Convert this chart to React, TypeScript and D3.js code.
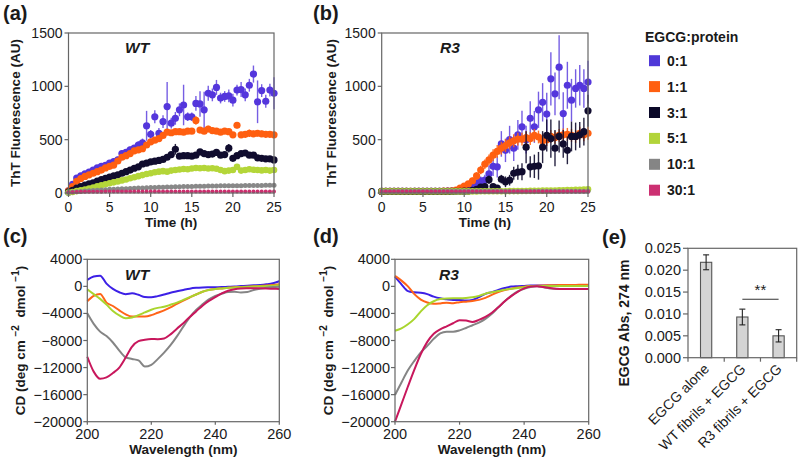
import React from "react";
import * as d3 from "d3";

const FONT = "'Liberation Sans', Arial, Helvetica, sans-serif";

// ---------- shared categories ----------
const RATIOS = ["0:1", "1:1", "3:1", "5:1", "10:1", "30:1"];
const POINT_COLORS = ["#5436dc", "#ff5f10", "#100c2e", "#b4d639", "#888888", "#cc2f6e"];
const LEGEND_COLORS = ["#4f38d8", "#ff5f10", "#0a0828", "#b2d43a", "#858585", "#cc3072"];
const POINT_RADII = [3.6, 3.6, 3.6, 3.3, 2.5, 2.0];

const TIME = [0, 0.5, 1, 1.5, 2, 2.5, 3, 3.5, 4, 4.5, 5, 5.5, 6, 6.5, 7, 7.5, 8, 8.5, 9, 9.5, 10, 10.5, 11, 11.5, 12, 12.5, 13, 13.5, 14, 14.5, 15, 15.5, 16, 16.5, 17, 17.5, 18, 18.5, 19, 19.5, 20, 20.5, 21, 21.5, 22, 22.5, 23, 23.5, 24, 24.5, 25];
const TIME_TICKS = [0, 5, 10, 15, 20, 25];
const THT_TICKS = [0, 500, 1000, 1500];

// ---------- (a) WT ThT ----------
const WT_0 = [20, 80, 140, 160, 180, 195, 215, 235, 250, 260, 280, 295, 310, 370, 380, 405, 420, 450, 470, 630, 550, 715, 560, 670, 810, 655, 700, 780, 825, 715, 715, 840, 835, 780, 935, 920, 990, 890, 905, 910, 870, 965, 970, 920, 1010, 1115, 855, 960, 860, 965, 935];
const WT_0_ERR = [10, 15, 20, 20, 20, 20, 20, 25, 25, 25, 25, 25, 30, 30, 30, 30, 30, 35, 40, 140, 40, 60, 50, 60, 230, 50, 60, 60, 190, 40, 40, 70, 120, 170, 70, 60, 70, 50, 50, 60, 60, 50, 70, 60, 60, 80, 200, 60, 60, 60, 150];
const WT_1 = [20, 60, 110, 135, 155, 170, 185, 200, 215, 235, 250, 262, 300, 335, 350, 370, 395, 405, 415, 450, 480, 495, 510, 540, 570, 565, 575, 575, 570, 580, 580, 680, 590, 580, 600, 585, 580, 570, 580, 575, 545, 635, 545, 550, 560, 555, 560, 555, 550, 550, 545];
const WT_1_ERR = [5, 10, 10, 12, 12, 12, 12, 12, 15, 15, 15, 15, 15, 18, 18, 18, 20, 20, 20, 20, 20, 20, 20, 20, 25, 20, 25, 25, 25, 25, 25, 40, 25, 25, 30, 25, 25, 25, 25, 25, 25, 30, 30, 30, 35, 30, 30, 30, 30, 30, 30];
const WT_3 = [10, 25, 45, 60, 75, 85, 95, 112, 125, 137, 148, 160, 170, 185, 200, 215, 232, 245, 272, 280, 292, 298, 305, 315, 335, 360, 410, 345, 350, 350, 345, 355, 385, 370, 360, 365, 380, 355, 360, 420, 325, 350, 370, 375, 355, 355, 330, 325, 320, 320, 310];
const WT_3_ERR = [5, 5, 8, 8, 10, 10, 10, 10, 12, 12, 12, 12, 12, 15, 15, 15, 15, 15, 15, 15, 15, 15, 15, 18, 20, 20, 50, 20, 20, 20, 20, 20, 25, 20, 20, 20, 25, 20, 20, 40, 20, 20, 25, 20, 20, 20, 20, 20, 20, 20, 20];
const WT_5 = [5, 10, 18, 25, 33, 42, 52, 62, 72, 82, 92, 100, 108, 118, 126, 138, 148, 158, 168, 178, 185, 195, 200, 205, 200, 210, 215, 220, 225, 222, 230, 235, 232, 235, 230, 232, 228, 215, 205, 210, 215, 245, 210, 215, 222, 218, 215, 212, 215, 210, 215];
const WT_5_ERR = [3, 4, 5, 5, 6, 6, 6, 8, 8, 8, 8, 8, 10, 10, 10, 10, 10, 12, 12, 12, 12, 12, 15, 15, 15, 15, 15, 18, 18, 18, 18, 20, 20, 20, 20, 20, 20, 20, 20, 20, 20, 20, 20, 20, 20, 20, 20, 20, 20, 20, 20];
const WT_10 = [5, 9, 12, 15, 18, 21, 24, 26, 29, 31, 34, 36, 38, 40, 41, 43, 45, 46, 48, 49, 51, 52, 53, 55, 56, 57, 58, 59, 60, 61, 62, 63, 64, 64, 65, 66, 66, 67, 67, 68, 68, 69, 69, 70, 70, 70, 71, 71, 72, 72, 72];
const WT_10_ERR = [3, 3, 4, 4, 4, 5, 5, 5, 5, 6, 6, 6, 6, 6, 7, 7, 7, 7, 8, 8, 8, 8, 8, 8, 9, 9, 9, 9, 9, 9, 10, 10, 10, 10, 10, 10, 10, 10, 10, 10, 10, 10, 10, 10, 10, 10, 10, 10, 10, 10, 10];
const WT_30 = [6, 8, 10, 11, 11, 12, 12, 12, 12, 13, 13, 13, 13, 13, 13, 13, 14, 14, 14, 14, 14, 14, 14, 14, 14, 14, 14, 14, 14, 14, 14, 14, 14, 14, 14, 14, 14, 14, 14, 14, 14, 14, 14, 14, 14, 14, 14, 14, 14, 14, 14];
const WT_30_ERR = [2, 2, 2, 2, 2, 2, 2, 2, 2, 2, 2, 2, 2, 2, 2, 2, 2, 2, 2, 2, 2, 2, 2, 2, 2, 2, 2, 2, 2, 2, 2, 2, 2, 2, 2, 2, 2, 2, 2, 2, 2, 2, 2, 2, 2, 2, 2, 2, 2, 2, 2];

// ---------- (b) R3 ThT ----------
const R3_0 = [15, 15, 16, 15, 15, 16, 15, 14, 15, 15, 16, 15, 15, 16, 15, 16, 17, 18, 20, 25, 35, 50, 70, 95, 115, 120, 180, 250, 245, 460, 400, 500, 420, 545, 620, 500, 700, 620, 780, 850, 740, 1070, 930, 1180, 745, 1010, 870, 980, 1010, 980, 1040];
const R3_0_ERR = [5, 5, 5, 5, 5, 5, 5, 5, 5, 5, 5, 5, 5, 5, 5, 5, 5, 5, 5, 5, 10, 15, 20, 25, 40, 50, 80, 90, 100, 120, 110, 130, 120, 140, 150, 130, 160, 150, 170, 180, 200, 250, 200, 300, 200, 220, 200, 180, 190, 180, 200];
const R3_1 = [15, 15, 15, 16, 15, 15, 16, 15, 15, 16, 15, 15, 16, 15, 16, 17, 18, 20, 28, 45, 65, 85, 115, 160, 215, 270, 310, 355, 390, 420, 445, 470, 490, 505, 505, 520, 510, 540, 525, 490, 500, 530, 520, 540, 545, 550, 540, 530, 560, 545, 560];
const R3_1_ERR = [5, 5, 5, 5, 5, 5, 5, 5, 5, 5, 5, 5, 5, 5, 5, 5, 5, 8, 10, 15, 20, 25, 30, 35, 40, 45, 50, 55, 60, 60, 60, 60, 60, 60, 60, 60, 60, 60, 60, 60, 60, 60, 60, 60, 60, 60, 60, 60, 60, 60, 60];
const R3_3 = [15, 15, 15, 15, 15, 15, 15, 15, 15, 15, 15, 15, 15, 15, 15, 15, 15, 15, 16, 16, 17, 18, 25, 35, 55, 60, 125, 60, 45, 130, 105, 120, 185, 195, 200, 430, 245, 250, 255, 430, 540, 510, 420, 530, 460, 400, 530, 530, 545, 575, 770];
const R3_3_ERR = [5, 5, 5, 5, 5, 5, 5, 5, 5, 5, 5, 5, 5, 5, 5, 5, 5, 5, 5, 5, 5, 5, 10, 15, 20, 20, 40, 25, 30, 40, 50, 50, 60, 70, 80, 150, 100, 110, 130, 150, 150, 180, 170, 150, 130, 130, 140, 130, 120, 130, 150];
const R3_5 = [15, 15, 15, 15, 15, 15, 15, 15, 15, 15, 15, 15, 15, 15, 15, 15, 15, 15, 15, 15, 15, 15, 15, 15, 16, 16, 16, 16, 17, 17, 17, 18, 18, 18, 19, 19, 20, 20, 21, 22, 22, 23, 24, 25, 26, 27, 28, 30, 31, 33, 35];
const R3_10 = [17, 17, 17, 17, 17, 17, 17, 17, 17, 17, 17, 17, 17, 17, 17, 17, 17, 17, 17, 17, 17, 17, 17, 17, 17, 17, 17, 17, 17, 17, 17, 17, 17, 17, 17, 17, 17, 17, 17, 17, 17, 17, 17, 17, 17, 17, 17, 17, 17, 17, 17];
const R3_30 = [14, 14, 14, 14, 14, 14, 14, 14, 14, 14, 14, 14, 14, 14, 14, 14, 14, 14, 14, 14, 14, 14, 14, 14, 14, 14, 14, 14, 14, 14, 14, 14, 14, 14, 14, 14, 14, 14, 14, 14, 14, 14, 14, 14, 14, 14, 14, 14, 14, 14, 14];
const R3_LOW_ERR = [4, 4, 4, 4, 4, 4, 4, 4, 4, 4, 4, 4, 4, 4, 4, 4, 4, 4, 4, 4, 4, 4, 4, 4, 4, 4, 4, 4, 4, 4, 4, 4, 4, 4, 4, 4, 4, 4, 4, 4, 4, 4, 4, 4, 4, 4, 4, 4, 4, 4, 4];

// ---------- (c)/(d) CD spectra ----------
const CD_COLORS = ["#3c20e6", "#ff6418", "#a9d52e", "#858585", "#c8175c"];
const WAVELENGTH = [200, 202, 204, 206, 208, 210, 212, 214, 216, 218, 220, 222, 224, 226, 228, 230, 232, 234, 236, 238, 240, 242, 244, 246, 248, 250, 252, 254, 256, 258, 260];
const WAVE_TICKS = [200, 220, 240, 260];
const CD_TICKS = [4000, 0, -4000, -8000, -12000, -16000, -20000];

const CD_WT_0 = [950, 1450, 1580, 400, -380, -870, -1150, -1030, -1250, -1580, -1620, -1440, -1200, -930, -730, -530, -340, -220, -160, -140, -130, -100, -60, -20, 40, 100, 150, 200, 300, 450, 750];
const CD_WT_1 = [-2200, -1400, -1120, -2400, -2900, -3550, -4150, -4470, -4470, -4450, -4250, -3900, -3550, -3100, -2600, -2120, -1650, -1200, -800, -520, -400, -300, -200, -130, -90, -50, 0, 50, 120, 200, 300];
const CD_WT_5 = [-450, -1150, -1850, -2700, -3650, -4300, -4700, -4600, -4250, -3850, -3450, -3180, -3020, -2720, -2400, -2000, -1600, -1200, -800, -550, -380, -300, -220, -160, -120, -60, -20, 10, 40, 80, 150];
const CD_WT_10 = [-3990, -5550, -6690, -7350, -8300, -9500, -10500, -10730, -10950, -11860, -11600, -10750, -9800, -8700, -7400, -5950, -4600, -3500, -2650, -1900, -1400, -1100, -850, -800, -900, -850, -530, -350, -200, -100, -40];
const CD_WT_30 = [-10400, -12600, -13650, -13450, -12800, -12000, -10500, -8900, -8100, -7880, -7780, -7800, -7700, -7100, -6250, -5450, -4520, -3700, -2850, -2150, -1600, -1050, -650, -420, -320, -290, -280, -290, -310, -350, -390];

const CD_R3_0 = [1440, 300, -700, -880, -950, -1150, -1520, -1770, -1910, -2010, -2010, -2100, -2000, -1600, -1100, -850, -530, -250, -30, 30, 70, 110, 120, 130, 140, 150, 160, 170, 180, 190, 200];
const CD_R3_1 = [1540, 850, 0, -1150, -1950, -2380, -2580, -2520, -2420, -2480, -2330, -2260, -2170, -2000, -1700, -1250, -850, -560, -350, -180, -50, 40, 100, 140, 160, 180, 200, 210, 220, 240, 250];
const CD_R3_5 = [-6550, -6200, -5600, -4800, -3700, -2800, -2200, -1880, -1780, -1760, -1760, -1720, -1620, -1400, -1080, -870, -680, -500, -370, -250, -120, 60, 60, 50, 40, 40, 40, 50, 50, 50, 50];
const CD_R3_10 = [-16050, -14200, -12400, -11000, -9750, -8800, -7750, -6950, -6700, -6690, -6500, -6150, -5750, -5350, -4800, -4050, -3100, -2200, -1400, -750, -350, -100, 20, -150, -300, -390, -390, -390, -390, -390, -390];
const CD_R3_30 = [-20000, -17400, -14800, -12300, -10000, -8200, -7000, -6350, -5900, -5450, -5000, -5050, -5250, -4950, -4500, -3900, -3100, -2200, -1450, -800, -300, -20, 30, -100, -250, -350, -390, -390, -390, -390, -390];

// ---------- (e) EGCG absorbance ----------
const E_CATS = ["EGCG alone", "WT fibrils + EGCG", "R3 fibrils + EGCG"];
const E_VALUES = [0.0218, 0.0093, 0.005];
const E_ERR = [0.0017, 0.0018, 0.0014];
const E_TICKS = [0, 0.005, 0.01, 0.015, 0.02, 0.025];
const E_SIG = { from: 1, to: 2, value: 0.01335, label: "**" };

const AXIS = "#666";
const TXT = "#1a1a1a";

type Box = { l: number; r: number; t: number; b: number };

function ThTPanel(props: {
  box: Box;
  series: number[][];
  errs: number[][];
  tag: string;
  tagX: number;
  name: string;
  nameX: number;
  ylabX: number;
}) {
  const { box, series, errs } = props;
  const x = d3.scaleLinear().domain([0, 25]).range([box.l, box.r]);
  const y = d3.scaleLinear().domain([0, 1500]).range([box.b, box.t]);
  return (
    <g>
      <defs>
        <clipPath id={`clip-${props.tag}`}>
          <rect x={box.l} y={box.t} width={box.r - box.l} height={box.b - box.t} />
        </clipPath>
      </defs>
      <g clipPath={`url(#clip-${props.tag})`}>
        {series.map((vals, si) => (
          <g key={si}>
            {vals.map((v, j) => (
              <line
                key={"e" + j}
                x1={x(TIME[j])}
                x2={x(TIME[j])}
                y1={y(v - errs[si][j])}
                y2={y(v + errs[si][j])}
                stroke={POINT_COLORS[si]}
                strokeOpacity={si === 0 ? 0.8 : 0.9}
                strokeWidth={1.4}
              />
            ))}
            {vals.map((v, j) => (
              <circle key={"p" + j} cx={x(TIME[j])} cy={y(v)} r={POINT_RADII[si]} fill={POINT_COLORS[si]} />
            ))}
          </g>
        ))}
      </g>
      <rect x={box.l} y={box.t} width={box.r - box.l} height={box.b - box.t} fill="none" stroke={AXIS} strokeWidth={1.2} />
      {TIME_TICKS.map((t) => (
        <g key={t}>
          <line x1={x(t)} x2={x(t)} y1={box.b} y2={box.b + 4} stroke={AXIS} strokeWidth={1.2} />
          <text x={x(t)} y={box.b + 19} textAnchor="middle" fontSize={14} fill={TXT}>
            {t}
          </text>
        </g>
      ))}
      {THT_TICKS.map((v) => (
        <g key={v}>
          <line x1={box.l - 4} x2={box.l} y1={y(v)} y2={y(v)} stroke={AXIS} strokeWidth={1.2} />
          <text x={box.l - 6} y={y(v) + 5} textAnchor="end" fontSize={14} fill={TXT}>
            {v}
          </text>
        </g>
      ))}
      <text
        transform={`translate(${props.ylabX},${(box.t + box.b) / 2}) rotate(-90)`}
        textAnchor="middle"
        fontSize={13.5}
        fontWeight="bold"
        fill={TXT}
      >
        ThT Fluorescence (AU)
      </text>
      <text x={(box.l + box.r) / 2} y={box.b + 34} textAnchor="middle" fontSize={13.5} fontWeight="bold" fill={TXT}>
        Time (h)
      </text>
      <text x={props.tagX} y={20} fontSize={20} fontWeight="bold" fill={TXT}>
        {props.tag}
      </text>
      <text x={props.nameX} y={53} fontSize={15.5} fontWeight="bold" fontStyle="italic" fill={TXT}>
        {props.name}
      </text>
    </g>
  );
}

function CDPanel(props: {
  box: Box;
  series: number[][];
  tag: string;
  tagX: number;
  name: string;
  nameX: number;
  ylabX: number;
}) {
  const { box, series } = props;
  const x = d3.scaleLinear().domain([200, 260]).range([box.l, box.r]);
  const y = d3.scaleLinear().domain([-20000, 4000]).range([box.b, box.t]);
  const line = d3
    .line<number>()
    .x((_, i) => x(WAVELENGTH[i]))
    .y((d) => y(d))
    .curve(d3.curveMonotoneX);
  const fmt = d3.format(",");
  const fmtTick = (v: number) => fmt(v).replace(/,/g, "");
  const nb = "\u00A0";
  return (
    <g>
      <defs>
        <clipPath id={`clip-${props.tag}`}>
          <rect x={box.l} y={box.t} width={box.r - box.l} height={box.b - box.t} />
        </clipPath>
      </defs>
      <g clipPath={`url(#clip-${props.tag})`}>
        {series.map((vals, si) => (
          <path key={si} d={line(vals) || ""} fill="none" stroke={CD_COLORS[si]} strokeWidth={2} />
        ))}
      </g>
      <rect x={box.l} y={box.t} width={box.r - box.l} height={box.b - box.t} fill="none" stroke={AXIS} strokeWidth={1.2} />
      {WAVE_TICKS.map((t) => (
        <g key={t}>
          <line x1={x(t)} x2={x(t)} y1={box.b} y2={box.b + 3} stroke={AXIS} strokeWidth={1.2} />
          <text x={x(t)} y={box.b + 17} textAnchor="middle" fontSize={14.5} fill={TXT}>
            {t}
          </text>
        </g>
      ))}
      {CD_TICKS.map((v) => (
        <g key={v}>
          <line x1={box.l - 4} x2={box.l} y1={y(v)} y2={y(v)} stroke={AXIS} strokeWidth={1.2} />
          <text x={box.l - 5} y={y(v) + 5} textAnchor="end" fontSize={14.5} fill={TXT}>
            {fmtTick(v)}
          </text>
        </g>
      ))}
      <text
        transform={`translate(${props.ylabX},${(box.t + box.b) / 2}) rotate(-90)`}
        textAnchor="middle"
        fontSize={13.5}
        fontWeight="bold"
        fill={TXT}
      >
        <tspan>{`CD (deg cm${nb}`}</tspan>
        <tspan dy={-6} fontSize={10}>{`−2`}</tspan>
        <tspan dy={6}>{`${nb}${nb}dmol${nb}`}</tspan>
        <tspan dy={-6} fontSize={10}>{`−1`}</tspan>
        <tspan dy={6}>{`)`}</tspan>
      </text>
      <text x={(box.l + box.r) / 2} y={box.b + 32} textAnchor="middle" fontSize={13.5} fontWeight="bold" fill={TXT}>
        Wavelength (nm)
      </text>
      <text x={props.tagX} y={243} fontSize={20} fontWeight="bold" fill={TXT}>
        {props.tag}
      </text>
      <text x={props.nameX} y={280} fontSize={15.5} fontWeight="bold" fontStyle="italic" fill={TXT}>
        {props.name}
      </text>
    </g>
  );
}

function BarPanel() {
  const box: Box = { l: 688, r: 796.7, t: 248.3, b: 357.7 };
  const x = d3.scaleBand<string>().domain(E_CATS).range([box.l, box.r]).padding(0);
  const y = d3.scaleLinear().domain([0, 0.025]).range([box.b, box.t]);
  const bw = x.bandwidth() * 0.31;
  const fmt = d3.format(".3f");
  const cx = (c: string) => (x(c) as number) + x.bandwidth() / 2;
  const boundaries = [box.l, ...E_CATS.map((c) => (x(c) as number) + x.bandwidth())];
  const sx1 = cx(E_CATS[E_SIG.from]);
  const sx2 = cx(E_CATS[E_SIG.to]);
  return (
    <g>
      {E_CATS.map((c, i) => (
        <g key={c}>
          <rect
            x={cx(c) - bw / 2}
            y={y(E_VALUES[i])}
            width={bw}
            height={y(0) - y(E_VALUES[i])}
            fill="#d4d4d4"
            stroke="#555"
            strokeWidth={1.1}
          />
          <line x1={cx(c)} x2={cx(c)} y1={y(E_VALUES[i] - E_ERR[i])} y2={y(E_VALUES[i] + E_ERR[i])} stroke="#222" strokeWidth={1.1} />
          <line x1={cx(c) - 3} x2={cx(c) + 3} y1={y(E_VALUES[i] - E_ERR[i])} y2={y(E_VALUES[i] - E_ERR[i])} stroke="#222" strokeWidth={1.1} />
          <line x1={cx(c) - 3} x2={cx(c) + 3} y1={y(E_VALUES[i] + E_ERR[i])} y2={y(E_VALUES[i] + E_ERR[i])} stroke="#222" strokeWidth={1.1} />
          <text
            transform={`translate(${cx(c) + 4},${box.b + 12}) rotate(-45)`}
            textAnchor="end"
            fontSize={14}
            fill={TXT}
          >
            {c}
          </text>
        </g>
      ))}
      <rect x={box.l} y={box.t} width={box.r - box.l} height={box.b - box.t} fill="none" stroke={AXIS} strokeWidth={1.2} />
      {boundaries.map((bx, i) => (
        <line key={i} x1={bx} x2={bx} y1={box.b} y2={box.b + 4} stroke={AXIS} strokeWidth={1.2} />
      ))}
      {E_TICKS.map((v) => (
        <g key={v}>
          <line x1={box.l - 5} x2={box.l} y1={y(v)} y2={y(v)} stroke={AXIS} strokeWidth={1.2} />
          <text x={box.l - 7} y={y(v) + 5} textAnchor="end" fontSize={14.5} fill={TXT}>
            {fmt(v)}
          </text>
        </g>
      ))}
      <line x1={sx1} x2={sx2} y1={y(E_SIG.value)} y2={y(E_SIG.value)} stroke="#333" strokeWidth={1.1} />
      <text x={(sx1 + sx2) / 2} y={y(E_SIG.value) - 4} textAnchor="middle" fontSize={15} fill={TXT}>
        {E_SIG.label}
      </text>
      <text
        transform={`translate(629,${323}) rotate(-90)`}
        textAnchor="middle"
        fontSize={14}
        fontWeight="bold"
        fill={TXT}
      >
        EGCG Abs, 274 nm
      </text>
      <text x={602} y={244} fontSize={20} fontWeight="bold" fill={TXT}>
        (e)
      </text>
    </g>
  );
}

function Legend() {
  const y0 = 60.7;
  const step = 25.9;
  return (
    <g>
      <text x={645} y={42} fontSize={14} fontWeight="bold" fill={TXT}>
        EGCG:protein
      </text>
      {RATIOS.map((r, i) => (
        <g key={r}>
          <rect x={649} y={y0 + i * step - 5.5} width={11} height={11} fill={LEGEND_COLORS[i]} />
          <text x={667} y={y0 + i * step + 5} fontSize={14} fontWeight="bold" fill={TXT}>
            {r}
          </text>
        </g>
      ))}
    </g>
  );
}

export default function App() {
  return (
    <svg
      width={800}
      height={465}
      viewBox="0 0 800 465"
      style={{ position: "absolute", left: 0, top: 0, background: "#fff", fontFamily: FONT }}
    >
      <rect width={800} height={465} fill="#fff" />
      <ThTPanel
        box={{ l: 68.5, r: 274, t: 33, b: 193 }}
        series={[WT_0, WT_1, WT_3, WT_5, WT_10, WT_30]}
        errs={[WT_0_ERR, WT_1_ERR, WT_3_ERR, WT_5_ERR, WT_10_ERR, WT_30_ERR]}
        tag="(a)"
        tagX={3}
        name="WT"
        nameX={125}
        ylabX={20}
      />
      <ThTPanel
        box={{ l: 381.7, r: 588, t: 33, b: 193 }}
        series={[R3_0, R3_1, R3_3, R3_5, R3_10, R3_30]}
        errs={[R3_0_ERR, R3_1_ERR, R3_3_ERR, R3_LOW_ERR, R3_LOW_ERR, R3_LOW_ERR]}
        tag="(b)"
        tagX={313}
        name="R3"
        nameX={440}
        ylabX={336}
      />
      <Legend />
      <CDPanel
        box={{ l: 87.3, r: 279.3, t: 259.3, b: 421.7 }}
        series={[CD_WT_0, CD_WT_1, CD_WT_5, CD_WT_10, CD_WT_30]}
        tag="(c)"
        tagX={3}
        name="WT"
        nameX={125}
        ylabX={25}
      />
      <CDPanel
        box={{ l: 395, r: 588.7, t: 259.3, b: 421.7 }}
        series={[CD_R3_0, CD_R3_1, CD_R3_5, CD_R3_10, CD_R3_30]}
        tag="(d)"
        tagX={313}
        name="R3"
        nameX={439}
        ylabX={333}
      />
      <BarPanel />
    </svg>
  );
}
